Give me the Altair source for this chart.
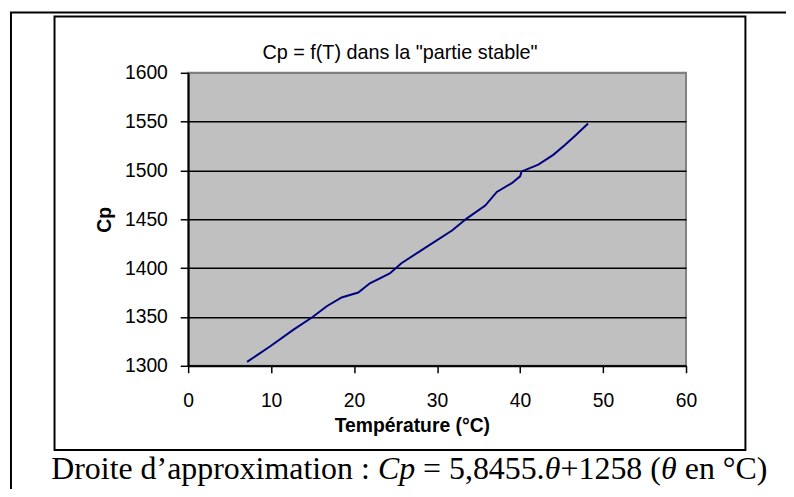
import altair as alt
import pandas as pd

# ---- data ----
temps = [7.1, 9.9, 12.7, 15.0, 16.7, 18.5, 20.5, 21.9, 24.3, 25.7, 28.6, 31.8,
         33.6, 35.8, 37.2, 39.0, 40.0, 40.2, 42.2, 44.0, 45.4, 46.7, 48.2]
cp = [1304, 1320, 1337, 1350, 1361, 1370, 1375, 1384.5, 1394.6, 1405, 1421, 1438.5,
      1451, 1464, 1478, 1487, 1494, 1499, 1506, 1516, 1526, 1536, 1548]
x_ticks = [0, 10, 20, 30, 40, 50, 60]
y_ticks = [1300, 1350, 1400, 1450, 1500, 1550, 1600]
title_text = 'Cp = f(T) dans la "partie stable"'
x_title = "Température (°C)"
y_title = "Cp"
caption_parts = ["Droite d’approximation : ", "Cp", " = 5,8455.", "θ", "+1258 (", "θ", " en °C)"]
caption_styles = ["normal", "italic", "normal", "italic", "normal", "italic", "normal"]

# ---- layout (plot origin at page 190,71) ----
W, H = 503, 296
SANS = "Liberation Sans"
SERIF = "Liberation Serif"
CAP_SIZE = 32.2

# Times metrics (1/1000 em) to place caption pieces side by side
tw = {"D": 722, "r": 333, "o": 500, "i": 278, "t": 278, "e": 444, " ": 250, "d": 500,
      "’": 333, "a": 444, "p": 500, "x": 500, "m": 778, "n": 500, ":": 278, "=": 564,
      "5": 500, ",": 250, "8": 500, "4": 500, ".": 250, "+": 564, "1": 500, "2": 500,
      "(": 333, ")": 333, "°": 400, "C": 667, "θ": 500}


def width(s):
    return sum(tw.get(c, 500) for c in s) / 1000 * CAP_SIZE


df = pd.DataFrame({"T": temps, "Cp": cp})

line = alt.Chart(df).mark_line(color="#000080", strokeWidth=2).encode(
    x=alt.X("T:Q", scale=alt.Scale(domain=[0, 60], nice=False, zero=False),
            axis=alt.Axis(values=x_ticks, title=x_title, grid=False, format="d",
                          domainColor="black", domainWidth=2,
                          tickColor="black", tickSize=7, tickWidth=1.5,
                          labelFont=SANS, labelFontSize=19.5, labelColor="black",
                          labelPadding=19, labelFlush=False, labelOverlap=False,
                          titleFont=SANS, titleFontSize=19.5, titleFontWeight="bold",
                          titleColor="black", titleX=226, titleY=66,
                          titleBaseline="alphabetic", titleAlign="center")),
    y=alt.Y("Cp:Q", scale=alt.Scale(domain=[1300, 1600], nice=False, zero=False),
            axis=alt.Axis(values=y_ticks, title=y_title, grid=True, format="d",
                          gridColor=alt.condition("datum.value == 1600",
                                                  alt.value("#808080"), alt.value("black")),
                          gridWidth=1.5, gridOpacity=1,
                          domainColor="black", domainWidth=2,
                          tickColor="black", tickSize=8, tickWidth=1.5,
                          labelFont=SANS, labelFontSize=19.5, labelColor="black",
                          labelPadding=13, labelFlush=False, labelOverlap=False,
                          titleFont=SANS, titleFontSize=19.5, titleFontWeight="bold",
                          titleColor="black", titleX=-78, titleY=148, titleAngle=270,
                          titleBaseline="alphabetic", titleAlign="center")),
)

one = pd.DataFrame({"k": [0]})
inner_box = alt.Chart(one).mark_rect(fill=None, stroke="black", strokeWidth=2).encode(
    x=alt.value(-135), x2=alt.value(563), y=alt.value(-57), y2=alt.value(381))
outer_top = alt.Chart(one).mark_rule(color="black", strokeWidth=2).encode(
    x=alt.value(-180), x2=alt.value(604), y=alt.value(-61))
outer_left = alt.Chart(one).mark_rule(color="black", strokeWidth=2).encode(
    x=alt.value(-179), y=alt.value(-61), y2=alt.value(430))
title = alt.Chart(pd.DataFrame({"s": [title_text]})).mark_text(
    font=SANS, fontSize=20, color="black", align="center", baseline="alphabetic").encode(
    text="s:N", x=alt.value(214), y=alt.value(-14.3))

layers = [inner_box, outer_top, outer_left, title, line]

xpos = 51.7 - 190
for part, style in zip(caption_parts, caption_styles):
    shown = part.lstrip(" ")
    lead = width(part[: len(part) - len(shown)])
    layers.append(
        alt.Chart(pd.DataFrame({"s": [shown.rstrip(" ")]})).mark_text(
            font=SERIF, fontSize=CAP_SIZE, fontStyle=style, color="black",
            align="left", baseline="alphabetic").encode(
            text="s:N", x=alt.value(xpos + lead), y=alt.value(410)))
    xpos += width(part)

chart = alt.layer(*layers).properties(
    width=W, height=H,
    autosize=alt.AutoSizeParams(type="none"),
    padding={"left": 182, "top": 63, "right": 101, "bottom": 122},
    background="white",
).configure_view(fill="#C0C0C0", stroke="#808080", strokeWidth=2)

chart.save("out.html", embed_options={"renderer": "svg", "actions": False})
